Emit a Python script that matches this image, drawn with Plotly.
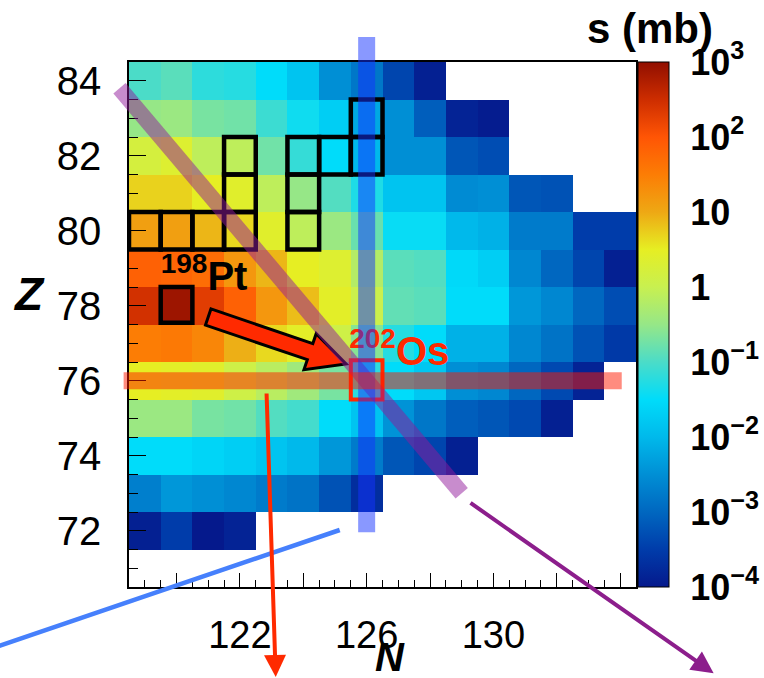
import math
import plotly.graph_objects as go

# ---------------------------------------------------------------- data
N_VALUES = list(range(119, 135))          # neutron number, one column each
Z_VALUES = list(range(71, 85))            # proton number, one row each

# log10 of the production cross section sigma (mb), columns N = 119 ... 134
# (None: nuclide not populated)
LOG_SIGMA_Z84 = [-1.0, -0.9, -1.2, -1.25, -1.5, -1.85, -2.5, -2.8, -3.4, -3.9,
                 None, None, None, None, None, None]
LOG_SIGMA_Z83 = [-0.5, -0.45, -0.7, -0.75, -1.1, -1.4, -1.7, -2.2, -2.5, -3.1,
                 -3.85, -3.95, None, None, None, None]
LOG_SIGMA_Z82 = [0.2, 0.35, -0.1, -0.1, -0.75, -1.15, -1.5, -2.0, -2.5, -2.5,
                 -3.2, -3.3, None, None, None, None]
LOG_SIGMA_Z81 = [0.7, 0.7, 0.5, 0.4, -0.1, -0.5, -0.95, -1.3, -1.85, -1.85,
                 -2.55, -2.5, -3.2, -3.25, None, None]
LOG_SIGMA_Z80 = [1.1, 1.1, 0.9, 0.65, 0.4, -0.1, -0.45, -0.8, -1.45, -1.45,
                 -2.0, -2.1, -2.75, -2.75, -3.5, -3.5]
LOG_SIGMA_Z79 = [1.85, 1.8, 1.7, 1.2, 0.9, 0.5, 0.35, -0.2, -0.9, -0.95,
                 -1.55, -1.7, -2.6, -3.0, -3.4, -3.9]
LOG_SIGMA_Z78 = [2.45, 2.9, 2.3, 1.85, 1.2, 0.85, 0.45, 0.05, -0.85, -0.9,
                 -1.5, -1.5, -2.4, -2.6, -3.0, -3.3]
LOG_SIGMA_Z77 = [1.5, 1.55, 1.4, 0.95, 0.65, 0.45, 0.1, -0.6, -1.25, -1.5,
                 -2.1, -2.1, -2.6, -2.85, -3.25, -3.55]
LOG_SIGMA_Z76 = [0.5, 0.45, 0.4, 0.1, -0.15, -0.4, -0.7, -1.2, -1.5, -1.8,
                 -2.5, -2.6, -3.0, -3.35, -3.85, None]
LOG_SIGMA_Z75 = [-0.45, -0.45, -0.7, -0.75, -0.95, -1.05, -1.5, -1.85, -2.45, -2.8,
                 -3.1, -3.2, -3.35, -3.9, None, None]
LOG_SIGMA_Z74 = [-1.5, -1.5, -1.6, -1.7, -1.85, -2.0, -2.4, -2.75, -3.2, -3.4,
                 -3.9, None, None, None, None, None]
LOG_SIGMA_Z73 = [-2.7, -2.4, -2.5, -2.6, -2.75, -2.85, -3.25, -3.7,
                 None, None, None, None, None, None, None, None]
LOG_SIGMA_Z72 = [-3.9, -3.5, -4.0, -3.85,
                 None, None, None, None, None, None, None, None, None, None, None, None]
LOG_SIGMA_Z71 = [None] * 16

LOG_SIGMA = [LOG_SIGMA_Z71, LOG_SIGMA_Z72, LOG_SIGMA_Z73, LOG_SIGMA_Z74,
             LOG_SIGMA_Z75, LOG_SIGMA_Z76, LOG_SIGMA_Z77, LOG_SIGMA_Z78,
             LOG_SIGMA_Z79, LOG_SIGMA_Z80, LOG_SIGMA_Z81, LOG_SIGMA_Z82,
             LOG_SIGMA_Z83, LOG_SIGMA_Z84]

# known isotopes outlined in black (N, Z)
OUTLINED = [(119, 80), (120, 80), (121, 80), (122, 80), (122, 81), (122, 82),
            (124, 80), (124, 81), (124, 82), (125, 82), (126, 82), (126, 83)]
PROJECTILE = (120, 78)     # 198Pt
TARGET = (126, 76)         # 202Os

X_TICKS = [120, 122, 124, 126, 128, 130, 132, 134]
X_TICK_TEXT = ["", "122", "", "126", "", "130", "", ""]
Y_TICKS = [72, 74, 76, 78, 80, 82, 84]
CB_EXPONENTS = [-4, -3, -2, -1, 0, 1, 2, 3]
CB_TEXT = ["10<sup>\u22124</sup>", "10<sup>\u22123</sup>", "10<sup>\u22122</sup>",
           "10<sup>\u22121</sup>", "1", "10", "10<sup>2</sup>", "10<sup>3</sup>"]

# ---------------------------------------------------------------- layout geometry
W, H = 764, 678
MT, MB = 62, 91
PLOT_L, PLOT_R = 129, 636
PLOT_H = H - MT - MB
X_RANGE = [118.5, 134.5]
Y_RANGE = [70.5, 84.5]
DOM_X = [PLOT_L / W, PLOT_R / W]
SX = (PLOT_R - PLOT_L) / (X_RANGE[1] - X_RANGE[0])     # px per unit N
SY = PLOT_H / (Y_RANGE[1] - Y_RANGE[0])                # px per unit Z
FONT = "Liberation Sans, Arial, sans-serif"


def paper_x(n):
    return DOM_X[0] + (n - X_RANGE[0]) / (X_RANGE[1] - X_RANGE[0]) * (DOM_X[1] - DOM_X[0])


def paper_y(z):
    return (z - Y_RANGE[0]) / (Y_RANGE[1] - Y_RANGE[0])


# palette: log10(sigma) from -4 to 3
COLORSCALE = [
    [0 / 14, "rgb(5,25,140)"], [1 / 14, "rgb(0,60,170)"], [2 / 14, "rgb(0,103,192)"],
    [3 / 14, "rgb(0,143,213)"], [4 / 14, "rgb(0,185,235)"], [5 / 14, "rgb(0,220,250)"],
    [6 / 14, "rgb(75,220,200)"], [7 / 14, "rgb(150,231,135)"], [8 / 14, "rgb(200,240,80)"],
    [9 / 14, "rgb(230,238,35)"], [10 / 14, "rgb(238,168,20)"], [11 / 14, "rgb(252,125,5)"],
    [12 / 14, "rgb(255,85,5)"], [13 / 14, "rgb(205,45,0)"], [14 / 14, "rgb(145,15,0)"],
]

fig = go.Figure()

fig.add_trace(go.Heatmap(
    x=N_VALUES, y=Z_VALUES, z=LOG_SIGMA,
    zmin=CB_EXPONENTS[0], zmax=CB_EXPONENTS[-1], colorscale=COLORSCALE,
    hoverinfo="skip",
    colorbar=dict(
        x=638 / W, xanchor="left", xpad=0, y=0.5, yanchor="middle", ypad=0,
        len=1, lenmode="fraction", thickness=31, thicknessmode="pixels",
        outlinewidth=1, outlinecolor="black",
        tickmode="array", tickvals=CB_EXPONENTS, ticktext=CB_TEXT,
        ticks="outside", ticklen=14, tickcolor="rgba(0,0,0,0)",
        tickfont=dict(family=FONT, size=36, color="black", weight="bold"),
    ),
))

# empty trace carrying the logarithmic tick marks drawn on the colour bar
fig.add_trace(go.Scatter(x=[], y=[], xaxis="x", yaxis="y2", showlegend=False,
                         hoverinfo="skip"))

# isotope labels
fig.add_trace(go.Scatter(
    x=[PROJECTILE[0] - 0.5], y=[PROJECTILE[1] + 0.7], mode="text",
    text=["<sup>198</sup>Pt"], textposition="middle right",
    textfont=dict(family=FONT, size=40, color="black", weight="bold"),
    showlegend=False, hoverinfo="skip", cliponaxis=False,
))
fig.add_trace(go.Scatter(
    x=[TARGET[0] - 0.55], y=[TARGET[1] + 0.7], mode="text",
    text=["<sup>202</sup>Os"], textposition="middle right",
    textfont=dict(family=FONT, size=40, color="#ff2a00", weight="bold"),
    showlegend=False, hoverinfo="skip", cliponaxis=False,
))

shapes = []

# outlined cells
for n, z in OUTLINED:
    shapes.append(dict(type="rect", xref="x", yref="y", x0=n - 0.5, x1=n + 0.5,
                       y0=z - 0.5, y1=z + 0.5, line=dict(color="black", width=4.5),
                       layer="above"))
shapes.append(dict(type="rect", xref="x", yref="y",
                   x0=PROJECTILE[0] - 0.5, x1=PROJECTILE[0] + 0.5,
                   y0=PROJECTILE[1] - 0.45, y1=PROJECTILE[1] + 0.5,
                   line=dict(color="black", width=4.5), layer="above"))
shapes.append(dict(type="rect", xref="x", yref="y",
                   x0=TARGET[0] - 0.5, x1=TARGET[0] + 0.5,
                   y0=TARGET[1] - 0.5, y1=TARGET[1] + 0.55,
                   line=dict(color="#ff2a00", width=4), layer="above"))


# thick arrow from the projectile towards the target
def arrow_path(n0, z0, n1, z1, half_shaft, half_head, head_len):
    x0, y0, x1, y1 = n0 * SX, z0 * SY, n1 * SX, z1 * SY
    length = math.hypot(x1 - x0, y1 - y0)
    ux, uy = (x1 - x0) / length, (y1 - y0) / length
    vx, vy = -uy, ux
    bx, by = x1 - ux * head_len, y1 - uy * head_len
    pts = [(x0 + vx * half_shaft, y0 + vy * half_shaft),
           (bx + vx * half_shaft, by + vy * half_shaft),
           (bx + vx * half_head, by + vy * half_head),
           (x1, y1),
           (bx - vx * half_head, by - vy * half_head),
           (bx - vx * half_shaft, by - vy * half_shaft),
           (x0 - vx * half_shaft, y0 - vy * half_shaft)]
    return "M " + " L ".join(f"{paper_x(px / SX):.5f},{paper_y(py / SY):.5f}"
                             for px, py in pts) + " Z"


shapes.append(dict(type="path", xref="paper", yref="paper",
                   path=arrow_path(121.0, 77.7, 125.35, 76.45, 8.5, 19, 38),
                   fillcolor="#ff2a00", line=dict(color="black", width=3),
                   layer="above"))

# translucent guide bands: isobar A = 202, isotone N = 126, isotope Z = 76
BANDS = [
    ((118.2, 83.8), (129.0, 73.0), "rgba(145,25,155,0.5)", 16),
    ((126.0, 85.17), (126.0, 71.96), "rgba(20,50,255,0.5)", 17),
    ((118.33, 76.0), (134.05, 76.0), "rgba(255,25,0,0.5)", 17),
]
for (n0, z0), (n1, z1), color, width in BANDS:
    shapes.append(dict(type="line", xref="paper", yref="paper",
                       x0=paper_x(n0), y0=paper_y(z0), x1=paper_x(n1), y1=paper_y(z1),
                       line=dict(color=color, width=width), layer="above"))

# thin pointer from the isotone band
shapes.append(dict(type="line", xref="paper", yref="paper",
                   x0=paper_x(114.4), y0=paper_y(68.93),
                   x1=paper_x(125.15), y1=paper_y(72.02),
                   line=dict(color="rgb(70,128,252)", width=4.5), layer="above"))

annotations = []

# pointers with arrowheads from the isotope and isobar bands
for (nt, zt), (nh, zh), color in [((122.84, 75.7), (123.13, 68.0), "#ff2a00"),
                                  ((129.23, 72.77), (136.95, 68.2), "rgb(140,30,140)")]:
    annotations.append(dict(
        xref="paper", yref="paper", x=paper_x(nh), y=paper_y(zh),
        axref="pixel", ayref="pixel", ax=(nt - nh) * SX, ay=-(zt - zh) * SY,
        text="", showarrow=True, arrowhead=2, arrowsize=1.1, arrowwidth=4,
        arrowcolor=color, standoff=0,
    ))

# axis titles and colour-bar title
annotations.append(dict(xref="paper", yref="paper", x=29 / W, y=(H - MB - 294) / PLOT_H,
                        text="Z", showarrow=False, xanchor="center", yanchor="middle",
                        font=dict(family=FONT, size=46, color="black",
                                  weight="bold", style="italic")))
annotations.append(dict(xref="paper", yref="paper", x=390 / W, y=(H - MB - 657) / PLOT_H,
                        text="N", showarrow=False, xanchor="center", yanchor="middle",
                        font=dict(family=FONT, size=40, color="black",
                                  weight="bold", style="italic")))
annotations.append(dict(xref="paper", yref="paper", x=650 / W, y=(H - MB - 29) / PLOT_H,
                        text="s (mb)", showarrow=False, xanchor="center", yanchor="middle",
                        font=dict(family=FONT, size=42, color="black", weight="bold")))

MINOR_LOG = [k * 10.0 ** e for e in range(-4, 3) for k in range(2, 10)]

fig.update_layout(
    width=W, height=H,
    margin=dict(l=0, r=0, t=MT, b=MB, pad=0),
    paper_bgcolor="white", plot_bgcolor="white",
    showlegend=False,
    font=dict(family=FONT, color="black"),
    xaxis=dict(
        domain=DOM_X, range=X_RANGE, showgrid=False, zeroline=False,
        showline=True, linecolor="black", linewidth=1.5, mirror=True,
        tickmode="array", tickvals=X_TICKS, ticktext=X_TICK_TEXT,
        ticks="inside", ticklen=14, tickwidth=1.3, tickcolor="black",
        minor=dict(dtick=0.5, tick0=0, ticks="inside", ticklen=7,
                   tickwidth=1.2, tickcolor="black", showgrid=False),
        tickfont=dict(family=FONT, size=38, color="black"),
        ticklabelstandoff=14,
    ),
    yaxis=dict(
        range=Y_RANGE, showgrid=False, zeroline=False,
        showline=True, linecolor="black", linewidth=1.5, mirror=True,
        tickmode="array", tickvals=Y_TICKS,
        ticks="inside", ticklen=17, tickwidth=1.3, tickcolor="black",
        minor=dict(dtick=0.5, tick0=0, ticks="inside", ticklen=9,
                   tickwidth=1.2, tickcolor="black", showgrid=False),
        tickfont=dict(family=FONT, size=40, color="black"),
        ticklabelstandoff=18,
    ),
    yaxis2=dict(
        overlaying="y", anchor="free", position=669 / W, side="right",
        type="log", range=[CB_EXPONENTS[0], CB_EXPONENTS[-1]],
        showgrid=False, zeroline=False, showline=False, showticklabels=False,
        tickmode="array", tickvals=[10.0 ** e for e in CB_EXPONENTS],
        ticks="inside", ticklen=15, tickwidth=1.3, tickcolor="black",
        minor=dict(tickmode="array", tickvals=MINOR_LOG, ticks="inside",
                   ticklen=7, tickwidth=1.2, tickcolor="black", showgrid=False),
    ),
    shapes=shapes,
    annotations=annotations,
)

fig.write_html("out.html")
